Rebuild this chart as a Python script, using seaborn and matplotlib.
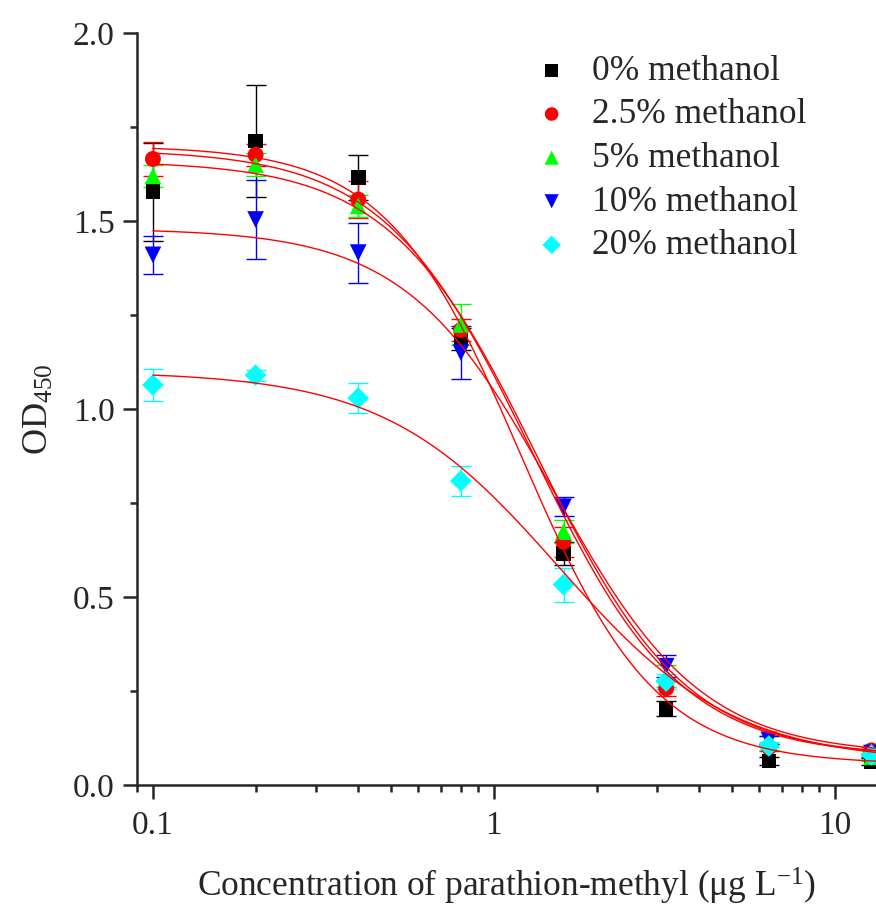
import numpy as np
import pandas as pd
import matplotlib
matplotlib.use("Agg")
import matplotlib.pyplot as plt
import matplotlib.ticker as mticker
import seaborn as sns

# concentrations (ug/L) and OD450 readings
conc = [0.1, 0.2, 0.4, 0.8, 1.6, 3.2, 6.4, 12.8]

od_0 = [1.578, 1.713, 1.615, 1.186, 0.615, 0.204, 0.064, 0.062]
err_0 = [0.13, 0.15, 0.06, 0.03, 0.03, 0.02, 0.01, 0.01]
od_25 = [1.665, 1.676, 1.557, 1.210, 0.647, 0.257, 0.100, 0.092]
err_25 = [0.045, 0.03, 0.05, 0.03, 0.04, 0.02, 0.01, 0.01]
od_5 = [1.620, 1.650, 1.540, 1.225, 0.674, 0.290, 0.115, 0.075]
err_5 = [0.03, 0.03, 0.03, 0.055, 0.03, 0.03, 0.015, 0.01]
od_10 = [1.410, 1.504, 1.416, 1.150, 0.740, 0.316, 0.120, 0.085]
err_10 = [0.05, 0.105, 0.08, 0.07, 0.025, 0.03, 0.01, 0.01]
od_20 = [1.064, 1.090, 1.029, 0.809, 0.533, 0.276, 0.104, 0.080]
err_20 = [0.043, 0.015, 0.04, 0.04, 0.045, 0.02, 0.01, 0.01]

labels = ["0% methanol", "2.5% methanol", "5% methanol", "10% methanol", "20% methanol"]

# four-parameter logistic fit parameters (top, bottom, IC50, slope)
fit_top = [1.70, 1.69, 1.66, 1.48, 1.10]
fit_bottom = [0.055, 0.075, 0.075, 0.080, 0.060]
fit_ic50 = [1.20, 1.30, 1.35, 1.50, 1.55]
fit_slope = [2.2, 2.0, 2.0, 2.0, 1.7]

colors = ["#000000", "#ff0000", "#00ff00", "#0000ff", "#00ffff"]
markers = ["s", "o", "^", "v", "D"]
msizes = [10.5, 11.5, 12, 12, 11]

sns.set_style("ticks")
plt.rcParams["font.family"] = ["Liberation Serif", "DejaVu Serif"]
plt.rcParams["mathtext.fontset"] = "custom"
plt.rcParams["mathtext.rm"] = "Liberation Serif"
plt.rcParams["mathtext.it"] = "Liberation Serif:italic"
plt.rcParams["font.size"] = 24

fig = plt.figure(figsize=(8.76, 9.06), dpi=100)
ax = fig.add_axes([137 / 876, 121 / 906, 739 / 876, 752 / 906])

points = pd.DataFrame({
    "conc": conc * 5,
    "od": od_0 + od_25 + od_5 + od_10 + od_20,
    "err": err_0 + err_25 + err_5 + err_10 + err_20,
    "group": [lab for lab in labels for _ in conc],
})

xs = np.geomspace(0.1, 13.5, 300)
curves = []
for lab, a, d, c, b in zip(labels, fit_top, fit_bottom, fit_ic50, fit_slope):
    curves.append(pd.DataFrame({"conc": xs, "od": d + (a - d) / (1 + (xs / c) ** b), "group": lab}))
curves = pd.concat(curves, ignore_index=True)

# error bars
for lab, col in zip(labels, colors):
    sub = points[points["group"] == lab]
    ax.errorbar(sub["conc"], sub["od"], yerr=sub["err"], fmt="none", ecolor=col,
                elinewidth=1.0, capsize=7, capthick=1.0, zorder=2)

# markers
for lab, col, m, ms in zip(labels, colors, markers, msizes):
    sub = points[points["group"] == lab]
    sns.scatterplot(data=sub, x="conc", y="od", color=col, marker=m, s=ms ** 2,
                    edgecolor="none", linewidth=0, ax=ax, label=lab, zorder=3)

# fitted curves
sns.lineplot(data=curves, x="conc", y="od", hue="group", palette=["#ff0000"] * 5,
             linewidth=1.0, ax=ax, legend=False, zorder=4)

ax.set_xscale("log")
ax.set_xlim(0.0898, 13.2)
ax.set_ylim(0, 2.0)
ax.xaxis.set_major_locator(mticker.FixedLocator([0.1, 1, 10]))
ax.xaxis.set_major_formatter(mticker.FixedFormatter(["0.1", "1", "10"]))
ax.xaxis.set_minor_locator(mticker.LogLocator(base=10, subs=np.arange(2, 10)))
ax.xaxis.set_minor_formatter(mticker.NullFormatter())
ax.yaxis.set_major_locator(mticker.MultipleLocator(0.5))
ax.yaxis.set_minor_locator(mticker.MultipleLocator(0.25))
ax.yaxis.set_major_formatter(mticker.FormatStrFormatter("%.1f"))

ax.tick_params(which="major", direction="out", length=10, width=1.8, labelsize=24, pad=6)
ax.tick_params(which="minor", direction="out", length=5, width=1.8)
ax.tick_params(axis="x", which="major", pad=8)
for side in ["left", "bottom"]:
    ax.spines[side].set_linewidth(1.8)
ax.spines["top"].set_visible(False)
ax.spines["right"].set_visible(False)

ax.set_xlabel(r"Concentration of parathion-methyl (μg L$^{\mathrm{-1}}$)", fontsize=25.5, labelpad=18)
ax.set_ylabel(r"OD$_{\mathrm{450}}$", fontsize=26, labelpad=12)

ax.legend(loc="upper left", bbox_to_anchor=(0.494, 0.99), frameon=False, fontsize=25.5,
          handletextpad=0.15, labelspacing=0.3, borderaxespad=0, markerscale=0.85)

fig.savefig("out.png", dpi=100)
